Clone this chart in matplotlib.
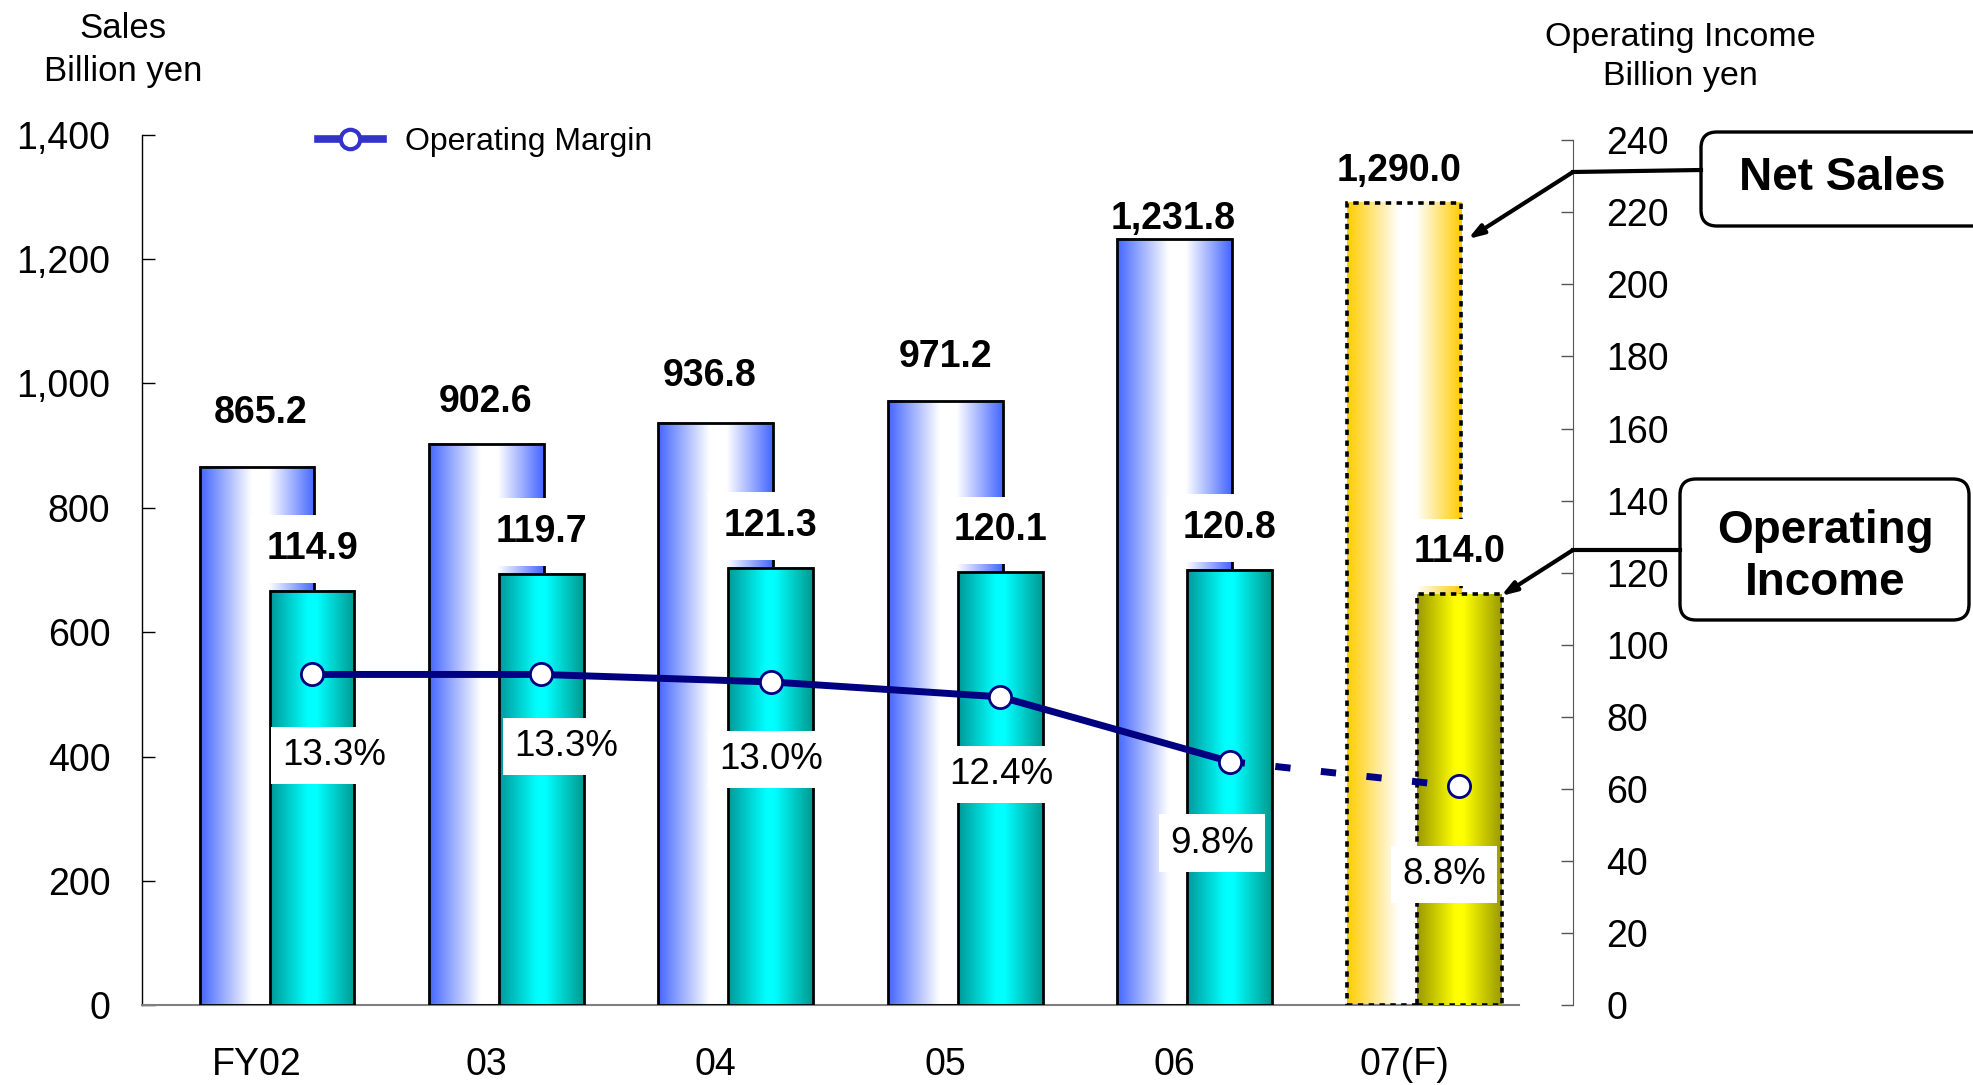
import numpy as np
import matplotlib
matplotlib.use('Agg')
from matplotlib import pyplot as plt
from matplotlib.colors import LinearSegmentedColormap
from matplotlib.lines import Line2D
from matplotlib.patches import FancyBboxPatch

plt.rcParams['font.family'] = ['Liberation Sans', 'DejaVu Sans']

years = ['FY02', '03', '04', '05', '06', '07(F)']
net_sales = [865.2, 902.6, 936.8, 971.2, 1231.8, 1290.0]
op_income = [114.9, 119.7, 121.3, 120.1, 120.8, 114.0]
op_margin = [13.3, 13.3, 13.0, 12.4, 9.8, 8.8]

# label offsets in points (dx, dy of baseline)
sales_off = [(2.7, 32), (-0.9, 23), (-4.5, 26.5), (0, 24.7), (-0.9, 7.5), (-3.6, 15.7)]
margin_off = [(16, -65), (18, -58.5), (0, -63), (1, -63), (-12.5, -65.5), (-11, -70)]

blue_cm = LinearSegmentedColormap.from_list('b', [(0, '#4466ff'), (0.45, '#ffffff'), (0.6, '#ffffff'), (1, '#4466ff')])
teal_cm = LinearSegmentedColormap.from_list('t', [(0, '#009999'), (0.45, '#00ffff'), (0.55, '#00ffff'), (1, '#009990')])
gold_cm = LinearSegmentedColormap.from_list('g', [(0, '#ffcc00'), (0.45, '#ffffff'), (0.6, '#ffffff'), (1, '#ffcc00')])
yell_cm = LinearSegmentedColormap.from_list('y', [(0, '#999900'), (0.45, '#ffff00'), (0.55, '#ffff00'), (1, '#999900')])


def shade(ax, bar, cmap, zorder):
    grad = np.linspace(0, 1, 256).reshape(1, -1)
    x0, y0 = bar.get_x(), bar.get_y()
    ax.imshow(grad, cmap=cmap, aspect='auto', interpolation='bicubic', zorder=zorder,
              extent=(x0, x0 + bar.get_width(), y0, y0 + bar.get_height()))


fig = plt.figure(figsize=(19.73, 10.85), dpi=100)
ax = fig.add_axes([0.0721, 0.0734, 0.6977, 0.8026])
ax2 = ax.twinx()
ax3 = ax.twinx()

x = np.arange(len(years))

# net sales (left axis)
sbars = ax.bar(x, net_sales, width=0.5, facecolor='none', edgecolor='black', lw=2, zorder=3)
for i, b in enumerate(sbars):
    shade(ax, b, gold_cm if i == len(years) - 1 else blue_cm, 2)
sbars[-1].set_linestyle((0, (1.5, 1.5)))
sbars[-1].set_linewidth(2.6)
for i, v in enumerate(net_sales):
    ax.annotate(f'{v:,.1f}', (x[i], v), xytext=sales_off[i], textcoords='offset points',
                ha='center', va='baseline', fontsize=27, fontweight='bold', zorder=5)

# operating income (right axis)
ox = x + 0.24
obars = ax2.bar(ox, op_income, width=0.37, facecolor='none', edgecolor='black', lw=2, zorder=3)
for i, b in enumerate(obars):
    shade(ax2, b, yell_cm if i == len(years) - 1 else teal_cm, 2)
obars[-1].set_linestyle((0, (1.5, 1.5)))
obars[-1].set_linewidth(2.6)
for i, v in enumerate(op_income):
    ax2.annotate(f'{v:.1f}', (ox[i], v), xytext=(0, 23), textcoords='offset points',
                 ha='center', va='baseline', fontsize=27, fontweight='bold', zorder=5,
                 bbox=dict(boxstyle='square,pad=0.42', fc='white', ec='none'))

# operating margin
ax3.plot(ox[:-1], op_margin[:-1], color='#000080', lw=5, zorder=4)
ax3.plot(ox[-2:], op_margin[-2:], color='#000080', lw=5, ls=(0, (2.2, 4.4)), zorder=4)
ax3.plot(ox, op_margin, ls='none', marker='o', ms=16, mfc='white', mec='#000080', mew=2, zorder=6)
for i, v in enumerate(op_margin):
    ax3.annotate(f'{v:.1f}%', (ox[i], v), xytext=margin_off[i], textcoords='offset points',
                 ha='center', va='baseline', fontsize=26.5, zorder=5,
                 bbox=dict(boxstyle='square,pad=0.3', fc='white', ec='none'))

for a in (ax, ax2, ax3):
    a.set_xlim(-0.5, 5.5)
ax.set_ylim(0, 1400)
ax2.set_ylim(0, 241.55)
ax3.set_ylim(0, 35)
ax3.axis('off')

# left axis
ax.spines['top'].set_visible(False)
ax.spines['right'].set_visible(False)
ax.spines['left'].set_linewidth(1)
ax.spines['bottom'].set_color('#808080')
ax.spines['bottom'].set_linewidth(1.5)
ax.set_yticks(np.arange(0, 1401, 200))
ax.set_yticklabels([f'{v:,}' for v in range(0, 1401, 200)])
ax.tick_params(axis='y', direction='in', length=9, width=1, pad=23, labelsize=27)
ax.set_xticks(np.arange(0.5, 6, 1))
ax.set_xticklabels([])
ax.tick_params(axis='x', which='major', direction='in', length=9, width=1, color='#555555')
ax.set_xticks(x, minor=True)
ax.set_xticklabels(years, minor=True)
ax.tick_params(axis='x', which='minor', length=0, pad=30, labelsize=27)

# right axis
for s in ('top', 'left', 'bottom'):
    ax2.spines[s].set_visible(False)
ax2.spines['right'].set_position(('outward', 39))
ax2.spines['right'].set_bounds(0, 240)
ax2.spines['right'].set_color('#555555')
ax2.set_yticks(np.arange(0, 241, 20))
ax2.tick_params(axis='y', direction='in', length=9, width=1, color='#555555', pad=24, labelsize=27)
ax2.set_xticks([])

fig.text(0.0624, 0.989, 'Sales\nBillion yen', ha='center', va='top', fontsize=25, linespacing=1.38)
fig.text(0.8515, 0.980, 'Operating Income\nBillion yen', ha='center', va='top', fontsize=24.5, linespacing=1.36)

handle = Line2D([], [], color='#3333cc', lw=5.5, marker='o', ms=14, mfc='white', mec='#3333cc', mew=3)
ax.legend([handle], ['Operating Margin'], loc='center left', bbox_to_anchor=(0.161, 0.869),
          bbox_transform=fig.transFigure, frameon=False, fontsize=23, borderpad=0,
          borderaxespad=0, handlelength=2.05, handletextpad=0.67)

# callout boxes, in figure inches
inch = fig.dpi_scale_trans
fig.patches.append(FancyBboxPatch((17.01, 8.59), 3.1, 0.94, boxstyle='round,pad=0,rounding_size=0.16',
                                  transform=inch, fc='white', ec='black', lw=2.4, figure=fig))
fig.text(18.42, 9.07, 'Net Sales', transform=inch, ha='center', va='center', fontsize=33, fontweight='bold')
fig.patches.append(FancyBboxPatch((16.80, 4.65), 2.89, 1.41, boxstyle='round,pad=0,rounding_size=0.16',
                                  transform=inch, fc='white', ec='black', lw=2.4, figure=fig))
fig.text(18.25, 5.28, 'Operating\nIncome', transform=inch, ha='center', va='center', fontsize=33,
         fontweight='bold', linespacing=1.24)

for start, knee, tip in [((17.01, 9.15), (15.73, 9.13), (14.68, 8.46)),
                         ((16.80, 5.35), (15.73, 5.35), (15.01, 4.89))]:
    fig.add_artist(Line2D([start[0], knee[0]], [start[1], knee[1]], transform=inch, color='black', lw=3))
    fig.add_artist(plt.Annotation('', xy=tip, xytext=knee, xycoords=inch, textcoords=inch,
                                  arrowprops=dict(arrowstyle='-|>,head_length=0.9,head_width=0.3',
                                                  color='black', lw=3, shrinkA=0, shrinkB=0)))

fig.savefig('out.png', dpi=100)
